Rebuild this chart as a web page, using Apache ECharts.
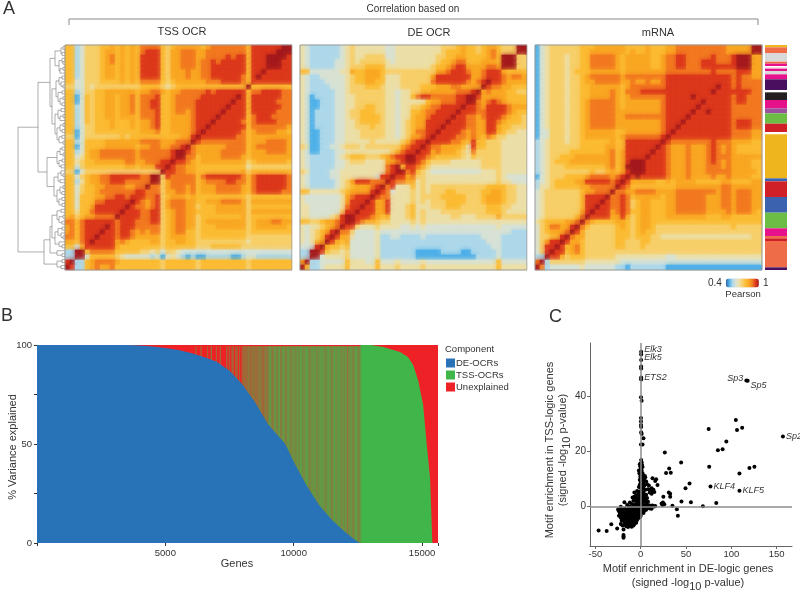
<!DOCTYPE html>
<html><head><meta charset="utf-8">
<style>html,body{margin:0;padding:0;background:#fff}#c{width:800px;height:590px}</style>
<script src="https://cdn.jsdelivr.net/npm/echarts@6/dist/echarts.min.js"></script>
</head><body><div id="c"></div>
<script>
// Only the part left of the anti-diagonal is listed, the matrix being symmetric.
const tssRows = [
"55124 44556 56565 77775 45666 66567 77777 75888 88899",
"55124 44566 56565 78885 46677 76677 77777 75888 8899",
"55124 44567 56565 88885 46677 76677 77878 85888 999",
"55124 44567 56565 88885 46677 76778 78888 85888 99",
"55124 44566 56565 88885 46677 76778 88888 85888 9",
"55124 44566 56565 88885 46667 66778 88888 85889",
"55124 44566 56565 88885 46667 66778 88888 7589",
"55224 44555 56565 77775 45666 66677 78888 758",
"44224 34444 44444 55554 34555 55555 55555 59",
"55124 45566 66665 66776 56677 77787 88888 8",
"55025 45566 56675 77785 56777 77888 88889",
"55025 45566 56675 77885 56777 78888 8889",
"55125 45566 56675 77885 56777 78888 889",
"55125 45566 56675 77785 56776 78888 89",
"55125 45566 56665 77785 56666 78888 9",
"55125 45556 55565 66785 56666 78889",
"55124 45556 55565 66785 56666 7889",
"55024 45555 55555 66675 56666 789",
"44024 44444 45455 55555 55566 89",
"55125 55566 66666 77776 66777 9",
"55025 55566 66665 66776 67789",
"55125 66777 77776 77777 7899",
"55235 66777 77776 77777 789",
"55345 56666 66776 67778 89",
"55245 55555 55665 66688 9",
"44024 44444 44444 44449",
"55245 66778 88888 7799",
"55135 66778 88777 779",
"55245 56677 77667 79",
"55245 56777 77778 8",
"55255 56677 88788",
"55255 57788 8889",
"55255 68888 889",
"55355 78888 89",
"56456 67777 9",
"77578 88888",
"67578 8889",
"67578 889",
"77578 89",
"66578 9",
"55258",
"1199",
"119",
"89",
"9"];
const deRows = [
"32111 11123 43333 33223 33333 33344 45655 45665 44499",
"32111 11123 43333 33223 33333 33345 55655 45675 4449",
"32111 11123 43344 44223 33333 33445 56655 55675 999",
"32111 11223 43444 44323 33333 33455 67755 56665 99",
"32111 11223 44455 55333 33333 34556 78866 66776 9",
"55222 22233 65566 65444 44444 44667 88876 67888",
"32112 22223 45566 65333 44444 46888 88886 6788",
"32111 22223 45566 55333 44444 47888 88876 789",
"32111 12223 44455 54333 44445 55666 77666 69",
"32111 11223 44444 44332 33445 56666 67778 9",
"32011 11223 34444 44332 33578 87777 78899",
"32001 11223 34444 44332 33333 56677 7889",
"32001 11223 34455 44332 33445 67788 889",
"32011 11223 44555 44332 33556 77888 89",
"32011 11223 44555 54332 33566 78888 9",
"32011 11223 34555 54332 34566 88889",
"32011 11223 34445 44332 34566 8889",
"32001 11223 33444 44332 34577 889",
"32001 11223 33444 44332 34667 89",
"32001 11223 33334 33333 45788 9",
"43001 12234 44344 44444 67889",
"32001 11223 33333 33345 7889",
"32111 11234 55544 45678 899",
"32111 11223 44433 33667 89",
"32111 11223 33333 33789",
"43111 12233 33333 33789",
"32111 12233 33333 2889",
"32111 11234 68887 779",
"32111 11234 56667 89",
"55333 33345 66668 9",
"32222 22236 78889",
"32222 22236 8889",
"33222 22237 889",
"33222 22248 89",
"33222 23489 9",
"55445 66789",
"32334 5679",
"32345 689",
"32345 89",
"32356 9",
"22289",
"1199",
"119",
"69",
"9"];
const mrnaRows = [
"02344 44445 55666 66655 55655 56677 77777 77766 66699",
"02344 44445 56666 66656 55655 56677 77777 77766 6669",
"02344 43445 57777 76566 66655 67788 77777 87778 999",
"02344 43445 57777 76566 66655 67788 77788 87778 99",
"02344 43445 57777 76566 66655 67788 77788 88888 9",
"02344 43455 56666 66566 66666 67777 77777 87777",
"02344 43445 67777 77677 77777 78888 88888 8888",
"02344 43445 66777 77667 66766 78888 88888 888",
"02344 43445 56666 66567 77777 78888 88888 89",
"02344 43445 56666 76577 78888 88888 88888 9",
"02344 43445 56666 76567 77777 78888 89888",
"02344 43445 67777 76566 66666 78888 8889",
"02344 43445 67777 76566 66666 78888 889",
"02344 43445 67777 76666 66666 78888 89",
"02344 43445 67777 76677 77777 78888 9",
"02344 43445 67777 76666 66666 78889",
"02344 43445 67777 76666 66666 7889",
"02244 43445 66666 65566 66666 789",
"02244 43445 66666 65677 77777 89",
"12344 43445 55555 65588 88888 9",
"12344 44445 55556 65588 88889",
"12344 44555 55556 75688 8889",
"12344 55566 66666 75688 889",
"12345 55666 66666 75689 99",
"12344 45555 55556 75699 9",
"12344 44444 45445 65689",
"02344 45555 67777 6789",
"12345 55566 88888 789",
"13345 55556 67777 79",
"23444 44445 66777 9",
"23444 44445 88889",
"23444 44445 8889",
"23444 44445 889",
"23444 44446 89",
"23444 44457 9",
"34555 56679",
"24577 6689",
"24566 679",
"24455 89",
"24688 9",
"24889",
"2489",
"119",
"79",
"9"];
// Dendrogram: [height, child, child]; 0 is a leaf.
const c1=[10,[4,[2,0,0],[3,0,0]],[6,[3,0,[2,0,0]],[5,[2,0,0],0]]];
const c2=[13,[9,[6,[3,0,0],[4,0,[2,0,0]]],[7,[3,0,0],[5,[2,0,0],[3,0,0]]]],[10,[7,[4,0,0],[5,[2,0,0],0]],[8,[5,[2,0,0],[3,0,0]],[6,[3,0,0],[2,0,0]]]]];
const c3=[8,[5,[3,0,0],[2,0,0]],[6,[3,0,0],[4,0,0]]];
const c4=[11,[7,[4,0,[2,0,0]],[5,0,0]],[8,[5,[2,0,0],[3,0,0]],[6,[3,0,0],[3,0,0]]]];
const c5=[13,[8,[4,0,0],[6,[2,0,0],[3,0,0]]],[10,[7,[3,0,0],[4,0,[2,0,0]]],[6,0,[3,0,0]]]];
const c6=[8,0,[3,0,0]];
const c7=[8,[3,0,0],[4,0,0]];
const treeRoot=[47,[27,[15,c1,c2],[18,c3,c4]],[21,[15,c5,c6],c7]];
// Annotation strip
const stripSizes=[7,18,25,6,7,5,4,6,10,15,32,7,23,25,15,31,25,7,132,9,47,47,47,23,7,8,79,8];
const stripColors=['#efb51c','#ee6c47','#d9d9d9','#ee6c47','#e6128c','#ffffff','#f0a0c8','#e6128c','#d9d9d9','#e6128c','#4a1060','#ffffff','#231f20','#e6128c','#9a4f9f','#6cbd45','#cf2027','#ffffff','#efb51c','#3a62ae','#cf2027','#3a62ae','#6cbd45','#e6128c','#ee6c47','#cf2027','#ee6c47','#4a1060'];
// ---- Panel B
const deCurve=[[0,100],[3500,100],[4000,99.8],[4500,99.3],[5000,98.5],[5500,97.5],[6000,96],[6500,94],[7000,91.5],[7500,87],[8000,80],[8500,71],[9000,60],[9670,50],[10000,41],[10500,29],[11000,19],[11500,11.5],[12000,5.5],[12500,0.5],[12600,0]];
const tssCurve=[[12600,100],[13000,100],[13490,99],[14140,96.5],[14450,94],[14650,90],[14850,82],[15040,70],[15180,50],[15310,33],[15360,15],[15400,0]];
const unexplained=[[0,100],[15620,100]];
const stripeStart=6000, stripeStep=50;
const stripeMix="000010002000010030001002000020101201201012"+"232432343234532343"+"56754675674676567656"+"67576785768765686757"+"67876578675687678657"+"682767567865"+"7";
// ---- Panel C
const labeled=[['Elk3',0.5,56],['Elk5',0.5,55],['ETS2',0.5,46.7],['Sp3',116.6,45.6],['Sp5',118,45.5],['Sp2',157,25.3],['KLF4',77,7.2],['KLF5',109,5.6]];
const motifs=[[0.5,53],[0.5,50.7],[0.5,50],[0.5,46],[0.3,39.5],[1,38.3],[0.3,32],[0.3,30.7],[0.3,29.5],[0.5,28.7],[0.5,26.8],[1,26.2],[3,24.7],[0.3,22.4],[2,22.4],
[105,31.3],[106.3,27.7],[112,28.5],[75,28],[94.5,23.5],[90.4,20.7],[85.2,20.3],[26.6,19.5],[44.6,15.9],[75.6,14.3],[125.5,14.3],[120,13.9],[109,11.9],[31.4,13.7],[28,12.1],[33.2,12.2],[53.9,8.3],[49.4,6.5],[83.4,1.2],[68.6,0],[55.4,1.5],[45,1.7],[35,0.2],[39.9,-1.1],[41,-3.4],[25,3.5],[31,5],[32.5,4.5],[32.5,3.5],[23,1],[24,0.5],[26,0.7],[24.5,1.4],
[-46.5,-8.8],[-37.6,-9],[-32.5,-6.5],[-26,-8.1],[-19,-8.4],[-19,-10.4],[-19,-11],[-19,-11.4],
[0.5,16.8],[1,16],[0,15.5],[-1,15.2],[1.5,15],[-0.5,14.5],[0.5,14],[2,14.2],[0,13.5],[-2,13],[1,13],[-1,12.8],[0.5,12.5],[-1.5,12],[2,12],[0,11.5],[1,11],[-0.5,10.8],[3,11],[4.5,11],[0,10.2],[1.5,10],[3,10],[5,10.5],[-1,9.5],[0.5,9],[2,9.2],[4,9.5],[6,9],[0,8.5],[1.5,8],[3,8.5],[-1,7.8],[0.5,7.5],[2.5,7],[4,7.5],[7,8],[9,7.5],[-2,7],[0,6.8],[1.5,6.3],[3,6.5],[5,6],[8,6.2],[10,6],[11,5.5],[13,5.5],[14,6],[12,6.5],[13,10.2],[17,9.8],[16,9.2],[18.5,7.7],[10,5],[12,4.5],[15,5.2],[-7,5],[-5,4],[-7,3.5],[-9,3.2],
[-4,5.5],[-2,5.2],[0,5.5],[1,4.8],[3,5],[-3,4.2],[-1,4],[0.5,3.8],[2,4],[4,3.8],[6,4.2],[-6,3],[-4,2.8],[-2,3],[-0.5,2.8],[1,2.6],[3,3],[5,2.5],[7,3],[-8,2],[-5,1.8],[-3,2],[-1,1.6],[0.5,1.9],[2,1.5],[4,1.8],[6,1.4],[8,1.6],[-12,1.4],[-10,0.8],[-7,0.6],[-4,0.8],[-2,0.4],[0,0.9],[2,0.5],[4,0.3],[6,0.6],[9,0.4],[11,0.2],[13,0.3],[15,-0.1],[16,0.1],[-22,-0.2],[-18,1.5],[-15,0.5],[-13,-0.1],[-11,-0.4],[-8,-0.3],[-5,-0.5],[-3,-0.2],[-1,-0.6],[1,-0.3],[3,-0.7],[5,-0.4],[7,-0.6],[10,-0.8],[12,-0.9],
[-25,-1.2],[-24,-1.8],[-22,-1],[-20,-1.5],[-18,-0.8],[-16,-1.3],[-14,-1],[-12,-1.6],[-10,-1.1],[-8,-1.4],[-6,-1],[-4,-1.5],[-2,-1.2],[0,-1.4],[2,-1.1],[4,-1.6],[6,-1.3],[-23,-2.4],[-21,-2.8],[-19,-2.2],[-17,-2.6],[-15,-2],[-13,-2.5],[-11,-2.1],[-9,-2.6],[-7,-2],[-5,-2.5],[-3,-2.1],[-1,-2.6],[1,-2],[3,-2.4],[-24,-3.4],[-20,-3.6],[-18,-3.1],[-16,-3.5],[-14,-3],[-12,-3.6],[-10,-3.1],[-8,-3.6],[-6,-3],[-4,-3.5],[-2,-3.1],[0,-3.4],[-22,-4.2],[-19,-4.6],[-17,-4.1],[-15,-4.5],[-13,-4],[-11,-4.5],[-9,-4.1],[-7,-4.6],[-5,-4],[-3,-4.4],[-1,-4],[-21,-5.2],[-18,-5.5],[-16,-5.1],[-14,-5.4],[-12,-5],[-10,-5.5],[-8,-5.1],[-6,-5.5],[-4,-5],[-22,-6.4],[-17,-6.2],[-15,-6.6],[-13,-6.1],[-11,-6.5],[-9,-6],[-7,-6.4],[-5,-6],[-16,-7.2],[-14,-7.5],[-12,-7],[-10,-7.4],[-8,-7],[-20,-7],[-18,-6.8]];

const FONT='"Liberation Sans",Arial,sans-serif';
const PAL=['#2f5fa8','#4fb0e8','#aed8ea','#d8e2d4','#ecdfa8','#f7cf6a','#fbbc35','#f9a825','#f27a22','#dc3a1e','#a51c1f'];
const parseRows=rows=>rows.map(s=>s.replace(/ /g,''));
function matrixCells(rows){
  const R=parseRows(rows),N=R.length,out=[];
  for(let r=0;r<N;r++)for(let c=0;c<N;c++){
    const ch=c<R[r].length?R[r][c]:(R[N-1-c]||'')[N-1-r];
    const d=ch===undefined?5:+ch;
    out.push({value:[c,r,+(0.46+0.06*d).toFixed(2)],itemStyle:{shadowBlur:5,shadowColor:PAL[d+1]}});
  }
  return out;
}
function treeLines(root){
  let leaf=0;const pts=[];
  (function walk(n){
    if(n===0){return{y:leaf+++0.5,h:0};}
    const kids=n.slice(1).map(walk),h=n[0],y0=kids[0].y,y1=kids[kids.length-1].y;
    kids.forEach(k=>pts.push([k.h,k.y],[h,k.y],[null,null]));
    pts.push([h,y0],[h,y1],[null,null]);
    return{y:(y0+y1)/2,h};
  })(root);
  return{pts,leaves:leaf};
}
const tree=treeLines(treeRoot);
const idx=[...Array(45).keys()];
const hmGrids=[65,300,535].map(l=>({left:l,top:45,width:227,height:225}));
const grids=[...hmGrids,
 {left:18,top:45,width:47,height:225},
 {left:765,top:45,width:22,height:225},
 {left:37,top:345,width:401,height:198},
 {left:590,top:343,width:202,height:203}];
const xAxes=[],yAxes=[];
[0,1,2].forEach(i=>{
 xAxes.push({gridIndex:i,type:'category',data:idx,show:false});
 yAxes.push({gridIndex:i,type:'category',data:idx,show:false,inverse:true});
});
xAxes.push({gridIndex:3,type:'value',min:0,max:47,inverse:true,show:false});
yAxes.push({gridIndex:3,type:'value',min:0,max:tree.leaves,inverse:true,show:false});
xAxes.push({gridIndex:4,type:'category',data:['group'],show:false});
yAxes.push({gridIndex:4,type:'value',min:0,max:stripSizes.reduce((a,b)=>a+b,0),inverse:true,show:false});
const txt={color:'#333',fontFamily:FONT,fontSize:9.5};
xAxes.push({gridIndex:5,type:'value',min:0,max:15620,interval:5000,splitLine:{show:false},axisLine:{show:false},
 axisTick:{show:true,length:3,lineStyle:{color:'#333'}},
 axisLabel:{...txt,margin:5,formatter:v=>(v>0&&v%5000===0)?String(v):''}});
yAxes.push({gridIndex:5,type:'value',min:0,max:100,interval:25,splitLine:{show:false},axisLine:{show:false},
 axisTick:{show:true,length:3,lineStyle:{color:'#333'}},
 axisLabel:{...txt,margin:5,padding:[4,0,0,0],formatter:v=>v%50===0?String(v):''}});
xAxes.push({gridIndex:6,type:'value',min:-56,max:167,splitLine:{show:false},
 axisLine:{show:true,onZero:false,lineStyle:{color:'#666'}},
 axisLabel:{...txt,margin:3,customValues:[-50,0,50,100,150]},
 axisTick:{show:true,length:3,lineStyle:{color:'#666'},customValues:[-50,0,50,100,150]}});
yAxes.push({gridIndex:6,type:'value',min:-14.4,max:59.2,splitLine:{show:false},
 axisLine:{show:true,onZero:false,lineStyle:{color:'#666'}},
 axisTick:{show:true,length:3,lineStyle:{color:'#666'},customValues:[0,20,40]},
 axisLabel:{...txt,fontSize:10,margin:4,customValues:[0,20,40]}});

const series=[];
[tssRows,deRows,mrnaRows].forEach((rows,i)=>series.push({type:'heatmap',xAxisIndex:i,yAxisIndex:i,z:1,data:matrixCells(rows),progressive:0,emphasis:{disabled:true}}));
series.push({type:'line',xAxisIndex:3,yAxisIndex:3,z:3,data:tree.pts,symbol:'none',connectNulls:false,silent:true,lineStyle:{color:'#8a8a8a',width:0.7},animation:false});
stripSizes.forEach((s,i)=>series.push({type:'bar',xAxisIndex:4,yAxisIndex:4,z:3,stack:'strip',data:[s],barWidth:'100%',itemStyle:{color:stripColors[i]},silent:true}));
const BLUE='#2872b8',GREEN='#40b54a',RED='#ee2226';
series.push({name:'Unexplained',type:'line',xAxisIndex:5,yAxisIndex:5,data:unexplained,symbol:'none',lineStyle:{width:0,color:RED},itemStyle:{color:RED},areaStyle:{color:RED,opacity:1},z:2});
series.push({name:'TSS-OCRs',type:'line',xAxisIndex:5,yAxisIndex:5,data:tssCurve,symbol:'none',lineStyle:{width:0,color:GREEN},itemStyle:{color:GREEN},areaStyle:{color:GREEN,opacity:1},z:3});
const lerp=(a,b,t)=>Math.round(a+(b-a)*t);
const mixCol=d=>{if(d===0)return RED;const t=d/9;return `rgb(${lerp(185,75,t)},${lerp(85,172,t)},${lerp(50,76,t)})`;};
series.push({type:'bar',xAxisIndex:5,yAxisIndex:5,barWidth:1.7,silent:true,z:3,
 data:stripeMix.split('').map((d,i)=>({value:[stripeStart+i*stripeStep,99.4],itemStyle:{color:mixCol(+d)}}))});
series.push({name:'DE-OCRs',type:'line',xAxisIndex:5,yAxisIndex:5,data:deCurve,symbol:'none',lineStyle:{width:0,color:BLUE},itemStyle:{color:BLUE},areaStyle:{color:BLUE,opacity:1},z:4});
const labelOpts={Elk3:{position:'right',offset:[0,-2]},Elk5:{position:'right',offset:[0,3]},ETS2:{position:'right',offset:[0,0]},Sp3:{position:'left',offset:[0,-2]},Sp5:{position:'right',offset:[0,5]},Sp2:{position:'right',offset:[0,0]},KLF4:{position:'right',offset:[0,0]},KLF5:{position:'right',offset:[0,0]}};
series.push({type:'scatter',xAxisIndex:6,yAxisIndex:6,data:motifs,symbolSize:4,itemStyle:{color:'#000',opacity:1},silent:true,
 markLine:{silent:true,symbol:'none',label:{show:false},animation:false,lineStyle:{color:'#8c8c8c',width:1.5,type:'solid'},data:[{xAxis:0},{yAxis:0}]}});
series.push({type:'scatter',xAxisIndex:6,yAxisIndex:6,symbolSize:4,itemStyle:{color:'#000',opacity:1},silent:true,
 data:labeled.map(l=>({name:l[0],value:[l[1],l[2]],label:{show:true,formatter:l[0],distance:1,fontFamily:FONT,fontSize:9,fontStyle:'italic',color:'#333',...labelOpts[l[0]]}}))});

const T=(text,x,y,size,extra)=>({type:'text',x,y,silent:true,z:50,style:{text,fill:extra&&extra.fill||'#333',font:`${size}px ${FONT}`,textAlign:extra&&extra.align||'center',textVerticalAlign:'middle',...(extra&&extra.style||{})},rotation:extra&&extra.rot||0});
const rich={sub:{fontFamily:FONT,fontSize:11,color:'#333',padding:[7,0,0,0]},n:{fontFamily:FONT,fontSize:11,color:'#333'}};
const signed=(x,y,rot)=>({type:'text',x,y,rotation:rot,silent:true,z:50,style:{text:'{n|(signed -log}{sub|10}{n| p-value)}',rich,textAlign:'center',textVerticalAlign:'middle',fill:'#333',font:`11px ${FONT}`}});
const frames=[65,300,535].flatMap(l=>[
 {type:'rect',silent:true,z:2,shape:{x:l-4,y:41,width:235,height:233},style:{fill:null,stroke:'#fff',lineWidth:7}},
 {type:'rect',silent:true,z:2,shape:{x:l,y:45,width:227,height:225},style:{fill:null,stroke:'#999',lineWidth:1}}]);
const graphic=[...frames,
 T('A',3,9,18,{align:'left'}),T('B',1,316,18,{align:'left'}),T('C',549,317,18,{align:'left'}),
 T('Correlation based on',413,9,10),
 T('TSS OCR',182,32,11),T('DE OCR',429,33,11),T('mRNA',658,33,11),
 {type:'polyline',silent:true,shape:{points:[[69,25],[69,19],[758,19],[758,25]]},style:{stroke:'#888',fill:null,lineWidth:1}},
 T('Pearson',743,294,9.5),
 T('Component',445,349,9.5,{align:'left'}),
 T('% Variance explained',13,447,11,{rot:Math.PI/2}),
 T('Genes',237,564,11),
 T('Motif enrichment in DE-logic genes',688,569,11),
 signed(688,583,0),
 T('Motif enrichment in TSS-logic genes',550,450,11,{rot:Math.PI/2}),
 signed(563,450,Math.PI/2)
];
const chart=echarts.init(document.getElementById('c'),null,{renderer:'canvas'});
chart.setOption({animation:false,backgroundColor:'#fff',grid:grids,xAxis:xAxes,yAxis:yAxes,series,graphic,
 legend:{data:['DE-OCRs','TSS-OCRs','Unexplained'],orient:'vertical',left:441,top:353,itemWidth:9,itemHeight:9,itemGap:2,icon:'rect',
  textStyle:{color:'#333',fontFamily:FONT,fontSize:9.5,padding:[0,0,0,-4]},selectedMode:false},
 visualMap:{type:'continuous',seriesIndex:[0,1,2],min:0.4,max:1,orient:'horizontal',left:693,top:263,itemWidth:9,itemHeight:33,calculable:false,realtime:false,hoverLink:false,
  text:['1','0.4'],textGap:4,textStyle:{color:'#333',fontFamily:FONT,fontSize:10},
  inRange:{color:PAL}}
});
</script></body></html>
